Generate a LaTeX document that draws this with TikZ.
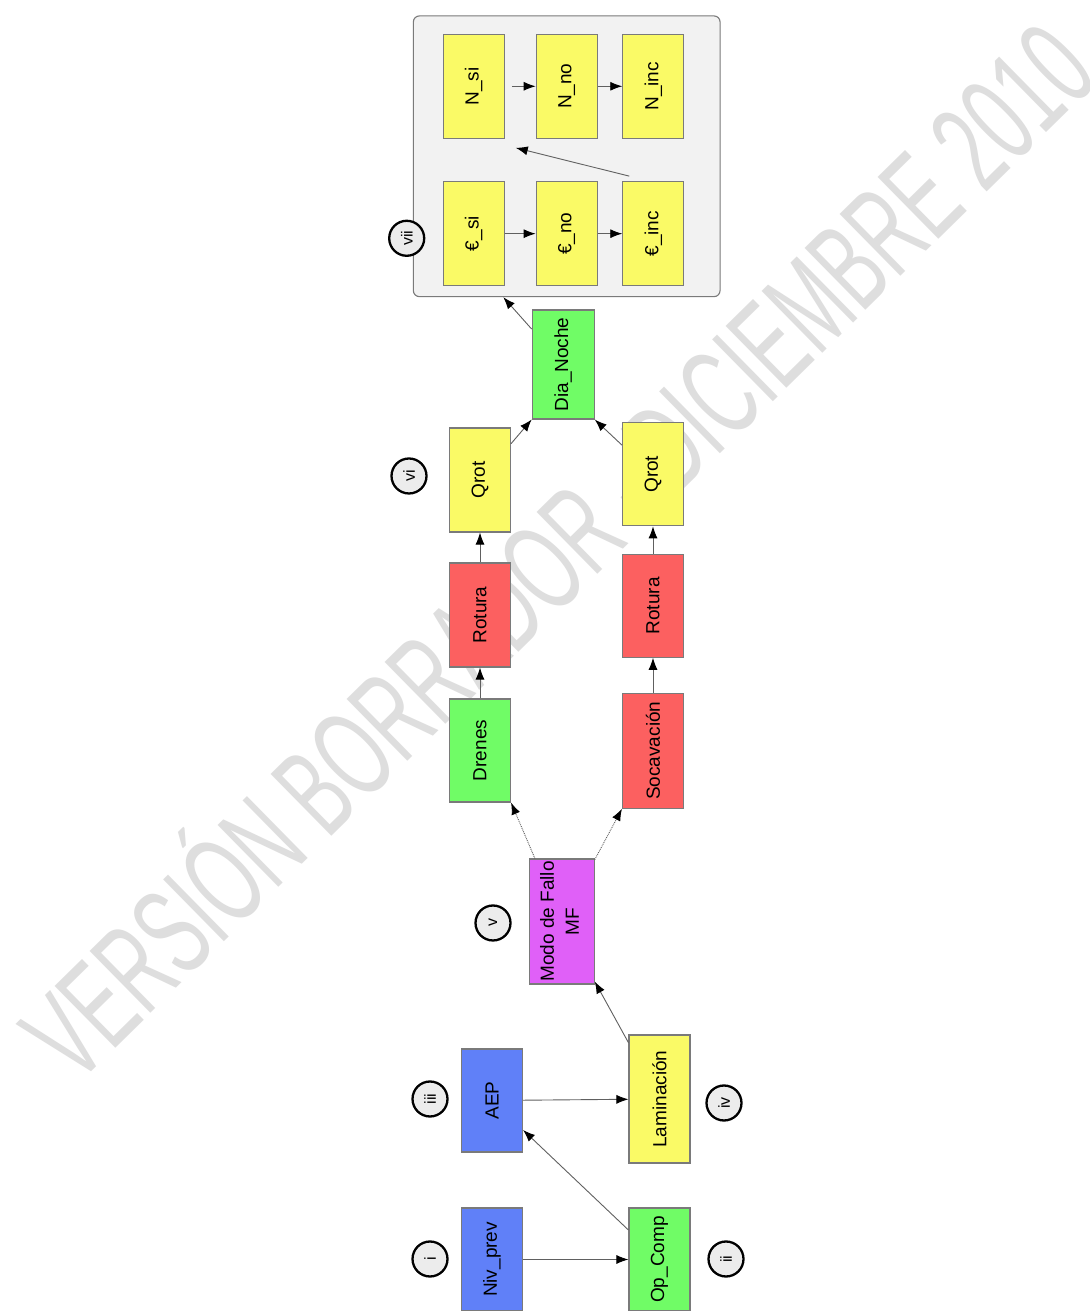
\documentclass[tikz,border=0pt]{standalone}
\usepackage{fontspec}
\setmainfont{Liberation Sans}
\usetikzlibrary{arrows.meta,calc}
\definecolor{cblue}{HTML}{6080F8}
\definecolor{cgreen}{HTML}{70FC66}
\definecolor{cred}{HTML}{FC6060}
\definecolor{cyellow}{HTML}{FAFA66}
\definecolor{cmagenta}{HTML}{E060F8}
\definecolor{bordergray}{HTML}{7A7A7A}
\definecolor{linegray}{HTML}{606060}
\definecolor{circfill}{HTML}{ECECEC}
\definecolor{contfill}{HTML}{F2F2F2}
\definecolor{wmgray}{HTML}{DEDEDE}
\begin{document}
\begin{tikzpicture}[x=1pt,y=1pt,
  box/.style={draw=bordergray, line width=1.1pt, minimum width=61pt, minimum height=103pt, inner sep=0pt, font=\fontsize{19}{23}\selectfont},
  num/.style={circle, draw=black, line width=2.3pt, fill=circfill, minimum size=35pt, inner sep=0pt, font=\fontsize{16}{18}\selectfont},
  conn/.style={draw=linegray, line width=0.9pt, -{Latex[length=12pt,width=9pt,fill=black,color=black]}},
  dconn/.style={conn, densely dotted},
]
\useasboundingbox (0,0) rectangle (1089,1311);
\clip (0,0) rectangle (1089,1311);
\fill[white] (0,0) rectangle (1089,1311);

% watermark
\node[rotate=44.5, anchor=base west, text=wmgray, font=\fontsize{126}{130}\selectfont, inner sep=0pt] (wm) at (76,224) {\scalebox{0.585}[1]{VERSIÓN BORRADOR - DICIEMBRE 2010}};

% container
\node[draw=bordergray, fill=contfill, line width=1.1pt, rounded corners=6pt, minimum width=306.7pt, minimum height=280.7pt, inner sep=0pt] (cont) at (566.7,1154.7) {};

% boxes
\node[box, fill=cblue] (nivprev) at (492,51.5) {\rotatebox{90}{Niv\_prev}};
\node[box, fill=cblue] (aep) at (492,210.5) {\rotatebox{90}{AEP}};
\node[box, fill=cgreen] (opcomp) at (659.5,51.5) {\rotatebox{90}{Op\_Comp}};
\node[box, fill=cyellow, minimum height=128pt] (lam) at (659.5,212) {\rotatebox{90}{Laminación}};
\node[box, fill=cmagenta, minimum width=65pt, minimum height=125pt] (modo) at (561.7,389.5) {\rotatebox{90}{\begin{tabular}{@{}c@{}}Modo de Fallo\\[2pt] MF\end{tabular}}};
\node[box, fill=cgreen] (drenes) at (480,560.5) {\rotatebox{90}{Drenes}};
\node[box, fill=cred, minimum height=104pt] (rotL) at (480,696) {\rotatebox{90}{Rotura}};
\node[box, fill=cyellow, minimum height=104pt] (qrotL) at (480,831) {\rotatebox{90}{Qrot}};
\node[box, fill=cred, minimum height=115pt] (soc) at (653,560.3) {\rotatebox{90}{Socavación}};
\node[box, fill=cred] (rotR) at (653,705.2) {\rotatebox{90}{Rotura}};
\node[box, fill=cyellow] (qrotR) at (653,836.7) {\rotatebox{90}{Qrot}};
\node[box, fill=cgreen, minimum width=62pt, minimum height=109pt] (dia) at (563.2,946.5) {\rotatebox{90}{Dia\_Noche}};

\node[box, fill=cyellow, minimum height=104pt] (nsi) at (473.7,1224.7) {\rotatebox{90}{N\_si}};
\node[box, fill=cyellow, minimum height=104pt] (nno) at (566.7,1224.7) {\rotatebox{90}{N\_no}};
\node[box, fill=cyellow, minimum height=104pt] (ninc) at (653.3,1224.7) {\rotatebox{90}{N\_inc}};
\node[box, fill=cyellow, minimum height=104pt] (esi) at (473.7,1077.3) {\rotatebox{90}{€\_si}};
\node[box, fill=cyellow, minimum height=104pt] (eno) at (566.7,1077.3) {\rotatebox{90}{€\_no}};
\node[box, fill=cyellow, minimum height=104pt] (einc) at (653.3,1077.3) {\rotatebox{90}{€\_inc}};

% numbered circles
\node[num] (ci) at (430,52) {\rotatebox{90}{i}};
\node[num] (cii) at (726,52) {\rotatebox{90}{ii}};
\node[num] (ciii) at (430,212) {\rotatebox{90}{iii}};
\node[num] (civ) at (724,208) {\rotatebox{90}{iv}};
\node[num] (cv) at (493,388) {\rotatebox{90}{v}};
\node[num] (cvi) at (409,835) {\rotatebox{90}{vi}};
\node[num] (cvii) at (406.7,1072.7) {\rotatebox{90}{vii}};

% connectors
\draw[conn] (nivprev) -- (opcomp);
\draw[conn] (aep) -- (lam);
\draw[conn] (opcomp) -- (aep);
\draw[conn] (lam) -- (modo);
\draw[dconn] (modo) -- (drenes.south east);
\draw[dconn] (modo) -- (soc.south west);
\draw[conn] (drenes) -- (rotL);
\draw[conn] (rotL) -- (qrotL);
\draw[conn] (soc) -- (rotR);
\draw[conn] (rotR) -- (qrotR);
\draw[conn] (qrotL) -- (dia.south west);
\draw[conn] (qrotR) -- (dia.south east);
\coordinate (contin) at ([xshift=-63.4pt]cont.south);
\draw[conn] (dia) -- (contin);
\draw[conn] (esi) -- (eno);
\draw[conn] (eno) -- (einc);
\draw[conn, shorten <=7pt] (nsi) -- (nno);
\draw[conn] (nno) -- (ninc);
\draw[conn] ([xshift=7pt,yshift=5pt]einc.north west) -- ([xshift=11pt,yshift=-9pt]nsi.south east);
\end{tikzpicture}
\end{document}
